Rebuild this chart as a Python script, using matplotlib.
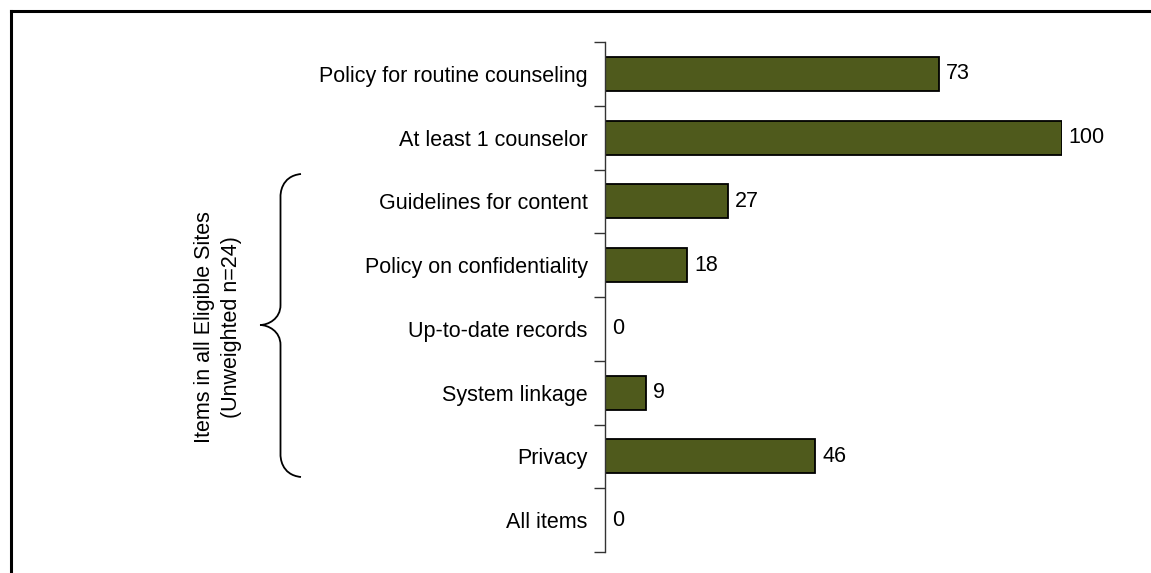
import matplotlib
matplotlib.use("Agg")
import matplotlib.pyplot as plt
from matplotlib.path import Path
from matplotlib.patches import PathPatch
from matplotlib.transforms import Affine2D
from matplotlib.lines import Line2D

categories = [
    "Policy for routine counseling",
    "At least 1 counselor",
    "Guidelines for content",
    "Policy on confidentiality",
    "Up-to-date records",
    "System linkage",
    "Privacy",
    "All items",
]
values = [73, 100, 27, 18, 0, 9, 46, 0]
group_label = "Items in all Eligible Sites\n(Unweighted n=24)"

W, H = 1151, 573
FS = 15.5
plt.rcParams["font.family"] = ["Liberation Sans", "DejaVu Sans"]

fig = plt.figure(figsize=(W / 100, H / 100), dpi=100)
ax = fig.add_axes([605 / W, 1 - 552 / H, 457 / W, 510 / H])

n = len(categories)
pos = list(range(n))
ax.barh(pos, values, height=0.53, color="#4F5A1C", edgecolor="black", linewidth=1.3)
ax.set_ylim(n - 0.5, -0.5)
ax.set_xlim(0, 100)

for p, v in zip(pos, values):
    ax.text(v + 1.5, p, f"{v}", va="center", ha="left", fontsize=FS)

# category labels at bar centres, tick marks at category boundaries
ax.set_yticks(pos)
ax.set_yticklabels(categories, fontsize=FS)
ax.tick_params(axis="y", which="major", length=0, pad=12.5)
ax.set_yticks([i - 0.5 for i in range(n + 1)], minor=True)
ax.tick_params(axis="y", which="minor", length=8, width=1, direction="out", color="#333333")

ax.set_xticks([])
for s in ["top", "right", "bottom"]:
    ax.spines[s].set_visible(False)
ax.spines["left"].set_color("#333333")
ax.spines["left"].set_linewidth(1)

# pixel-space transform for annotations outside the axes
pix = Affine2D().scale(1 / W, -1 / H).translate(0, 1) + fig.transFigure

# figure frame (top and left edges)
fig.add_artist(Line2D([11, 11], [H + 5, 11], transform=pix, color="black", linewidth=2.2))
fig.add_artist(Line2D([11, W + 5], [11, 11], transform=pix, color="black", linewidth=2.2))

# curly brace spanning the grouped items
xe, xv, xt = 301, 280.5, 260
y0, ym, y1 = 174, 325, 477
verts = [
    (xe, y0), (xv, y0 + 2), (xv, y0 + 21), (xv, y0 + 22),
    (xv, ym - 20),
    (xv, ym - 6), (xt + 8, ym), (xt, ym),
    (xt + 8, ym), (xv, ym + 6), (xv, ym + 20),
    (xv, y1 - 22),
    (xv, y1 - 21), (xv, y1 - 2), (xe, y1),
]
codes = [Path.MOVETO, Path.CURVE4, Path.CURVE4, Path.CURVE4,
         Path.LINETO,
         Path.CURVE4, Path.CURVE4, Path.CURVE4,
         Path.CURVE4, Path.CURVE4, Path.CURVE4,
         Path.LINETO,
         Path.CURVE4, Path.CURVE4, Path.CURVE4]
fig.add_artist(PathPatch(Path(verts, codes), transform=pix, fill=False,
                         edgecolor="black", linewidth=1.3))

fig.text(218 / W, 1 - 327 / H, group_label, rotation=90, ha="center", va="center",
         fontsize=FS, linespacing=1.35)

fig.savefig("out.png", dpi=100, facecolor="white")
